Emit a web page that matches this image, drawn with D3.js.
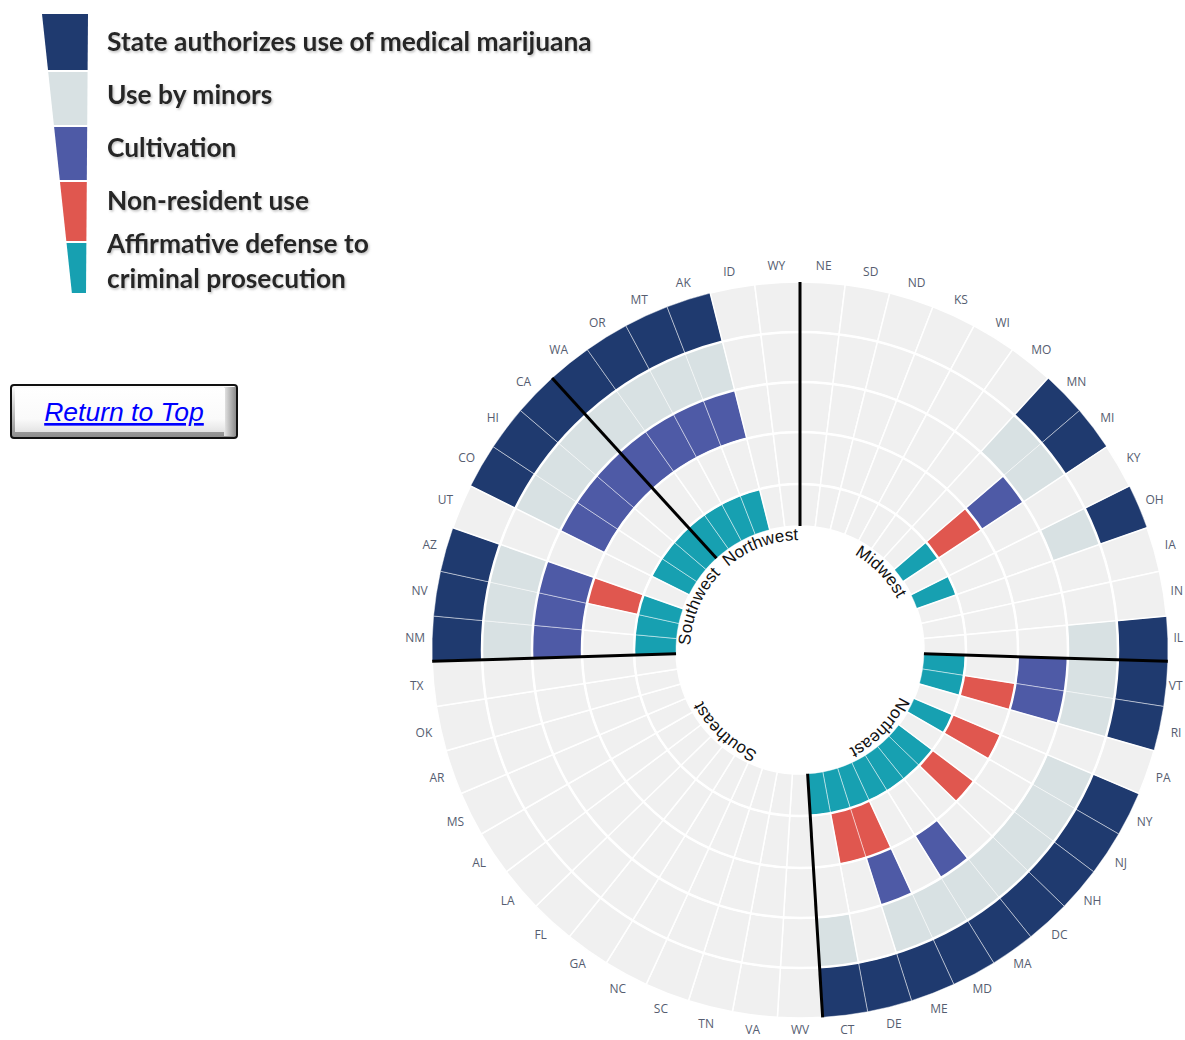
<!DOCTYPE html>
<html>
<head>
<meta charset="utf-8">
<script src="https://cdnjs.cloudflare.com/ajax/libs/d3/7.8.5/d3.min.js"></script>
<style>
  body { margin: 0; background: #fff; }
  .state { font: 12px 'Open Sans', sans-serif; fill: #565d70; }
  .region { font: 17px 'Liberation Sans', Arial, sans-serif; fill: #111; }
  .legend text { font-family: Lato, sans-serif; font-weight: bold; fill: #262626; }
</style>
</head>
<body>
<div id="viz"></div>
<script>
// states, clockwise from 12 o'clock, grouped by region
var midwest   = ["NE","SD","ND","KS","WI","MO","MN","MI","KY","OH","IA","IN","IL"];
var northeast = ["VT","RI","PA","NY","NJ","NH","DC","MA","MD","ME","DE","CT"];
var southeast = ["WV","VA","TN","SC","NC","GA","FL","LA","AL","MS","AR","OK","TX"];
var southwest = ["NM","NV","AZ","UT","CO","HI","CA"];
var northwest = ["WA","OR","MT","AK","ID","WY"];
var regionNames = ["Midwest","Northeast","Southeast","Southwest","Northwest"];

// rings, outside to inside
var measures = ["State authorizes use of medical marijuana","Use by minors","Cultivation",
                "Non-resident use","Affirmative defense to criminal prosecution"];
var legendLines = [["State authorizes use of medical marijuana"],["Use by minors"],["Cultivation"],
                   ["Non-resident use"],["Affirmative defense to","criminal prosecution"]];
var colors = ["#1f3a6f","#d8e1e3","#4e5aa6","#e0574f","#17a0b1"];

// states where the provision applies
var authorizes  = ["MN","MI","OH","IL","VT","RI","NY","NJ","NH","DC","MA","MD","ME","DE","CT",
                   "NM","NV","AZ","CO","HI","CA","WA","OR","MT","AK"];
var minors      = ["MN","MI","OH","IL","VT","RI","NY","NJ","NH","DC","MA","MD","ME","CT",
                   "NM","NV","AZ","CO","HI","CA","WA","OR","MT","AK"];
var cultivation = ["MI","VT","RI","MA","ME","NM","NV","AZ","CO","HI","CA","WA","OR","MT","AK"];
var nonResident = ["MI","RI","NY","NH","ME","DE","AZ"];
var affirmative = ["MI","OH","VT","RI","NY","NH","DC","MA","MD","ME","DE","CT",
                   "NM","NV","AZ","CO","HI","CA","WA","OR","MT","AK"];

var regions = [midwest, northeast, southeast, southwest, northwest];
var states = [].concat.apply([], regions);
var hasByRing = [authorizes, minors, cultivation, nonResident, affirmative];

var width = 1185, height = 1040;
var cx = 800, cy = 650;
var ringR = [368, 318, 268, 218, 166, 124];

var svg = d3.select("#viz").append("svg")
  .attr("width", width)
  .attr("height", height);

var defs = svg.append("defs");
var sh = defs.append("filter").attr("id", "shadow").attr("x", "-5%").attr("y", "-20%").attr("width", "110%").attr("height", "150%");
sh.append("feDropShadow").attr("dx", 1.2).attr("dy", 1.5).attr("stdDeviation", 1)
  .attr("flood-color", "#888").attr("flood-opacity", 0.55);
var g1 = defs.append("linearGradient").attr("id", "bevel").attr("x1", 0).attr("y1", 0).attr("x2", 0).attr("y2", 1);
g1.append("stop").attr("offset", "0%").attr("stop-color", "#ffffff");
g1.append("stop").attr("offset", "100%").attr("stop-color", "#8c8c8c");
var g2 = defs.append("linearGradient").attr("id", "bevelSide").attr("x1", 0).attr("y1", 0).attr("x2", 1).attr("y2", 0);
g2.append("stop").attr("offset", "0%").attr("stop-color", "#e8e8e8");
g2.append("stop").attr("offset", "100%").attr("stop-color", "#8a8a8a");
var g3 = defs.append("linearGradient").attr("id", "face").attr("x1", 0).attr("y1", 0).attr("x2", 0).attr("y2", 1);
g3.append("stop").attr("offset", "0%").attr("stop-color", "#ffffff");
g3.append("stop").attr("offset", "70%").attr("stop-color", "#fafafa");
g3.append("stop").attr("offset", "100%").attr("stop-color", "#e4e4e4");

// ---- legend ----
var legend = svg.append("g").attr("class", "legend");
var yb = [14, 71, 126, 181, 242, 294];
var leftX = d3.scaleLinear().domain([14, 294]).range([42, 72]);
var rightX = d3.scaleLinear().domain([14, 294]).range([88, 86]);
measures.forEach(function(m, i) {
  var y0 = yb[i] + (i ? 1 : 0), y1 = yb[i + 1] - 1;
  legend.append("polygon")
    .attr("points", [[leftX(y0), y0], [rightX(y0), y0], [rightX(y1), y1], [leftX(y1), y1]].join(" "))
    .attr("fill", colors[i]);
});
var textY = [[42], [95], [148], [201], [244, 279]];
var lt = [];
legendLines.forEach(function(lines, i) {
  lines.forEach(function(s, j) {
    lt.push(legend.append("text")
      .attr("x", 107).attr("y", textY[i][j]).attr("dy", "0.36em")
      .attr("filter", "url(#shadow)")
      .style("font-size", "24px")
      .text(s));
  });
});
var w0 = lt[0].node().getComputedTextLength();
var fs = 24 * 485 / w0;
lt.forEach(function(t) { t.style("font-size", fs + "px"); });

// ---- return to top button ----
var btn = svg.append("g").attr("transform", "translate(11,385)");
btn.append("rect").attr("width", 226).attr("height", 53).attr("rx", 3)
  .attr("fill", "url(#bevel)").attr("stroke", "#111").attr("stroke-width", 2);
btn.append("rect").attr("x", 213).attr("y", 2).attr("width", 12).attr("height", 49)
  .attr("fill", "url(#bevelSide)");
btn.append("rect").attr("x", 4).attr("y", 3).attr("width", 210).attr("height", 44)
  .attr("fill", "url(#face)");
btn.append("text")
  .attr("x", 113).attr("y", 36)
  .attr("text-anchor", "middle")
  .style("font", "italic 26.5px 'Liberation Sans', Arial, sans-serif")
  .style("fill", "#0000ff")
  .style("text-decoration", "underline")
  .text("Return to Top");

// ---- radial chart ----
var chart = svg.append("g").attr("transform", "translate(" + cx + "," + cy + ")");
var angle = d3.scaleBand().domain(states).range([0, 2 * Math.PI]);
var ring = d3.scaleOrdinal().domain(measures).range(d3.range(measures.length));
var arc = d3.arc();

var cells = [];
states.forEach(function(s) {
  measures.forEach(function(m, i) {
    cells.push({ state: s, measure: m, on: hasByRing[i].indexOf(s) >= 0 });
  });
});
function cellPath(d) {
  var k = ring(d.measure);
  return arc({
    innerRadius: ringR[k + 1], outerRadius: ringR[k],
    startAngle: angle(d.state), endAngle: angle(d.state) + angle.bandwidth()
  });
}

// filled first, then empty cells so their white borders sit on top
chart.selectAll("path.on").data(cells.filter(function(d) { return d.on; }))
  .enter().append("path").attr("class", "on")
  .attr("d", cellPath)
  .attr("fill", function(d) { return colors[ring(d.measure)]; })
  .attr("stroke", "rgba(255,255,255,0.45)")
  .attr("stroke-width", 1);
chart.selectAll("path.off").data(cells.filter(function(d) { return !d.on; }))
  .enter().append("path").attr("class", "off")
  .attr("d", cellPath)
  .attr("fill", "#f0f0f0")
  .attr("stroke", "#fff")
  .attr("stroke-width", 1.5);

// ring separators
chart.selectAll("circle.sep").data(ringR.slice(1, -1))
  .enter().append("circle").attr("class", "sep")
  .attr("r", function(d) { return d; })
  .attr("fill", "none").attr("stroke", "#fff").attr("stroke-width", 2.5);

// region dividers
var firsts = regions.map(function(r) { return r[0]; });
chart.selectAll("line.div").data(firsts)
  .enter().append("line").attr("class", "div")
  .attr("x1", function(s) { return ringR[5] * Math.sin(angle(s)); })
  .attr("y1", function(s) { return -ringR[5] * Math.cos(angle(s)); })
  .attr("x2", function(s) { return ringR[0] * Math.sin(angle(s)); })
  .attr("y2", function(s) { return -ringR[0] * Math.cos(angle(s)); })
  .attr("stroke", "#000").attr("stroke-width", 3);

// state labels (kept inside the page edges)
var labelR = 385;
var maxX = width - cx - 2, maxY = height - cy - 2;
chart.selectAll("text.state").data(states)
  .enter().append("text").attr("class", "state")
  .attr("x", function(s) { return labelR * Math.sin(angle(s) + angle.bandwidth() / 2); })
  .attr("y", function(s) { return -labelR * Math.cos(angle(s) + angle.bandwidth() / 2); })
  .attr("text-anchor", "middle")
  .attr("dy", "0.35em")
  .text(function(s) { return s; })
  .each(function() {
    var t = d3.select(this), b = this.getBBox();
    if (b.x + b.width > maxX) t.attr("x", +t.attr("x") - (b.x + b.width - maxX));
    if (b.y + b.height > maxY) t.attr("y", +t.attr("y") - (b.y + b.height - maxY));
  });

// region labels along the inner circle
var pr = 110;
defs.append("path").attr("id", "regionPath")
  .attr("d", "M0," + (-pr) +
    " A" + pr + "," + pr + " 0 1,1 0," + pr +
    " A" + pr + "," + pr + " 0 1,1 0," + (-pr) +
    " A" + pr + "," + pr + " 0 1,1 0," + pr +
    " A" + pr + "," + pr + " 0 1,1 0," + (-pr));
chart.selectAll("text.region").data(regions)
  .enter().append("text").attr("class", "region")
  .append("textPath")
  .attr("href", "#regionPath")
  .attr("text-anchor", "middle")
  .attr("startOffset", function(r) {
    var a0 = angle(r[0]), a1 = angle(r[r.length - 1]) + angle.bandwidth();
    return ((a0 + a1) / 2) * pr;
  })
  .text(function(r, i) { return regionNames[i]; });
</script>
</body>
</html>
